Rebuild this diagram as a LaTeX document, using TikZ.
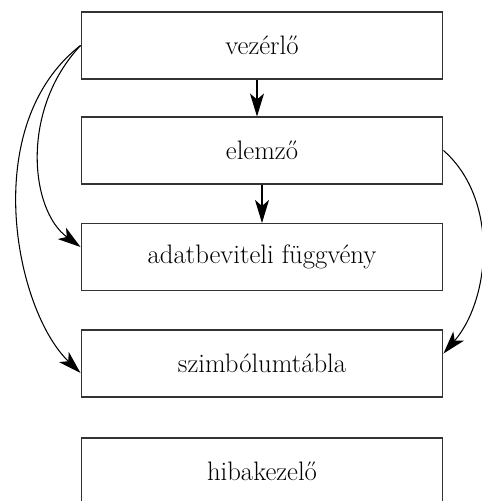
\documentclass[tikz,border=0pt]{standalone}
\usepackage{tikz}
\usetikzlibrary{arrows.meta}

\tikzset{
  modul/.style={draw=black!80, line width=0.6pt, minimum width=7.24cm, minimum height=1.34cm, align=center, font=\fontsize{15.2}{18}\selectfont},
  nyil/.style={-{Stealth[length=4.6mm,width=2.8mm,inset=1.2mm]}, line width=0.6pt}
}

\begin{document}
\begin{tikzpicture}[x=0.02cm,y=-0.02cm]
\useasboundingbox (0,0) rectangle (482,501);

\node[modul] (vez) at (262,45.5) {vezérlő};
\node[modul] (elem) at (262,150.5) {elemző};
\node[modul] (adat) at (262,257) {adatbeviteli függvény};
\node[modul] (szimb) at (262,363.5) {szimbólumtábla};
\node[modul] (hiba) at (262,471.5) {hibakezelő};

\draw[nyil] ([xshift=-0.1cm]vez.south) -- ([xshift=-0.1cm]elem.north);
\draw[nyil] (elem) -- (adat);
\draw[nyil] (vez.west) .. controls (20,110) and (30,210) .. ([yshift=0.2cm]adat.west);
\draw[nyil] (vez.west) .. controls (-22,125) and (15,310) .. ([yshift=-0.19cm]szimb.west);
\draw[nyil] (elem.east) .. controls (500,200) and (490,300) .. ([yshift=0.2cm]szimb.east);
\end{tikzpicture}
\end{document}
